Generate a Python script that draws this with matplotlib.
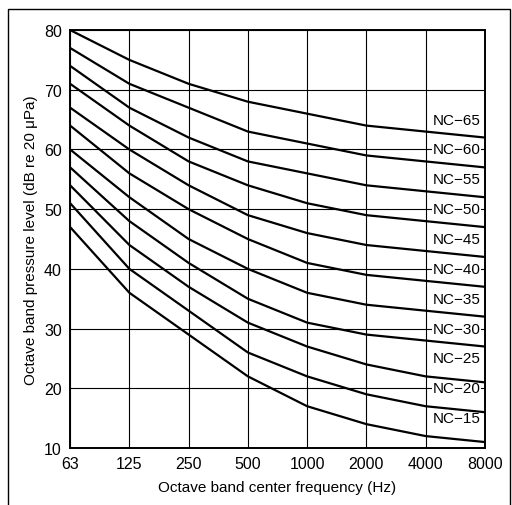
import numpy as np
import matplotlib.pyplot as plt
from matplotlib.patches import Rectangle

plt.rcParams['font.family'] = ['Liberation Sans', 'DejaVu Sans']

# Octave band center frequencies (Hz)
freqs = [63, 125, 250, 500, 1000, 2000, 4000, 8000]
freq_labels = ['63', '125', '250', '500', '1000', '2000', '4000', '8000']

# NC curve levels (dB re 20 uPa)
nc15 = [47, 36, 29, 22, 17, 14, 12, 11]
nc20 = [51, 40, 33, 26, 22, 19, 17, 16]
nc25 = [54, 44, 37, 31, 27, 24, 22, 21]
nc30 = [57, 48, 41, 35, 31, 29, 28, 27]
nc35 = [60, 52, 45, 40, 36, 34, 33, 32]
nc40 = [64, 56, 50, 45, 41, 39, 38, 37]
nc45 = [67, 60, 54, 49, 46, 44, 43, 42]
nc50 = [71, 64, 58, 54, 51, 49, 48, 47]
nc55 = [74, 67, 62, 58, 56, 54, 53, 52]
nc60 = [77, 71, 67, 63, 61, 59, 58, 57]
nc65 = [80, 75, 71, 68, 66, 64, 63, 62]

curves = [nc15, nc20, nc25, nc30, nc35, nc40, nc45, nc50, nc55, nc60, nc65]
nc_values = [15, 20, 25, 30, 35, 40, 45, 50, 55, 60, 65]

fig = plt.figure(figsize=(5.12, 5.06), dpi=100)
ax = fig.add_axes([0.137, 0.1126, 0.81, 0.826])

# octave-spaced positions (63 Hz treated as one octave below 125 Hz)
x = np.log2(np.array(freqs) / 125.0) + 1
x[0] = 0

for vals in curves:
    ax.plot(x, vals, color='black', lw=1.6, zorder=3)

# labels in the last octave band
xl = x[-2] + 0.52
for nc in nc_values:
    ax.text(xl, nc, f'NC\u2212{nc}', fontsize=11, ha='center', va='center', zorder=2,
            bbox=dict(facecolor='white', edgecolor='none', pad=0.5))

ax.set_xlim(x[0], x[-1])
ax.set_ylim(10, 80)
ax.set_xticks(x)
ax.set_xticklabels(freq_labels)
ax.set_yticks(range(10, 81, 10))
ax.tick_params(labelsize=11.5, length=0, pad=6)
ax.grid(True, color='black', lw=0.8, zorder=1)
ax.set_axisbelow(True)
for s in ax.spines.values():
    s.set_linewidth(1.4)
    s.set_zorder(5)

ax.set_xlabel('Octave band center frequency (Hz)', fontsize=11, labelpad=6)
ax.set_ylabel('Octave band pressure level (dB re 20 \u03bcPa)', fontsize=11, labelpad=4)

# outer frame
fig.patches.append(Rectangle((0.016, -0.05), 0.98, 1.03, transform=fig.transFigure,
                             fill=False, edgecolor='black', lw=1.0))

fig.savefig('out.png', dpi=100)
